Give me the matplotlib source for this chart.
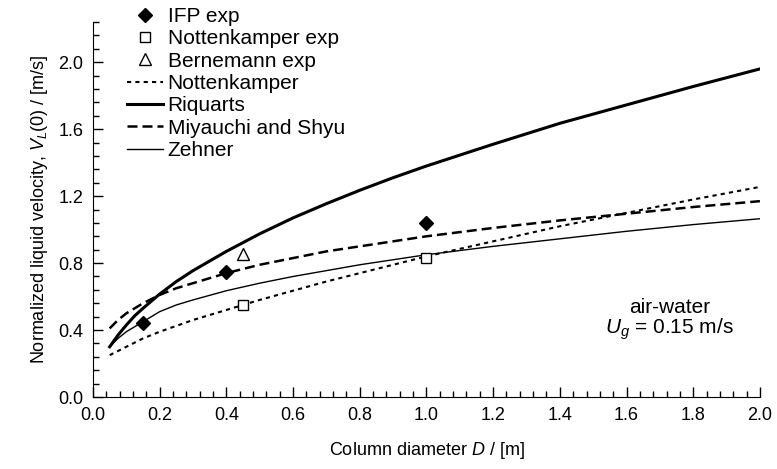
import numpy as np
import matplotlib
matplotlib.use('Agg')
from matplotlib import pyplot as plt

plt.rcParams['font.family'] = ['Liberation Sans', 'DejaVu Sans']
plt.rcParams['mathtext.fontset'] = 'custom'
plt.rcParams['mathtext.it'] = 'Liberation Sans:italic'
plt.rcParams['mathtext.rm'] = 'Liberation Sans'

# -----------------------------------------------
# экспериментальные точки
ifp_D = [0.15, 0.40, 1.00]
ifp_V = [0.445, 0.745, 1.04]
nott_exp_D = [0.45, 1.00]
nott_exp_V = [0.55, 0.83]
bern_D = [0.45]
bern_V = [0.855]

# корреляции
D = [0.05, 0.075, 0.1, 0.125, 0.15, 0.2, 0.25, 0.3, 0.4, 0.5, 0.6, 0.7, 0.8, 0.9,
     1.0, 1.2, 1.4, 1.6, 1.8, 2.0]
nott_V = [0.25, 0.275, 0.30, 0.325, 0.35, 0.39, 0.425, 0.46, 0.52, 0.58, 0.635, 0.69,
          0.74, 0.79, 0.84, 0.93, 1.02, 1.10, 1.18, 1.255]
riq_V = [0.30, 0.37, 0.43, 0.485, 0.53, 0.615, 0.69, 0.755, 0.87, 0.975, 1.07, 1.155,
         1.235, 1.31, 1.38, 1.51, 1.635, 1.745, 1.855, 1.96]
miy_V = [0.41, 0.46, 0.50, 0.53, 0.56, 0.61, 0.65, 0.68, 0.74, 0.79, 0.83, 0.87,
         0.90, 0.93, 0.96, 1.01, 1.055, 1.095, 1.135, 1.17]
zeh_V = [0.30, 0.35, 0.39, 0.42, 0.45, 0.51, 0.55, 0.58, 0.635, 0.68, 0.72, 0.755,
         0.79, 0.82, 0.85, 0.90, 0.945, 0.99, 1.03, 1.065]

x_major = [0.0, 0.2, 0.4, 0.6, 0.8, 1.0, 1.2, 1.4, 1.6, 1.8, 2.0]
y_major = [0.0, 0.4, 0.8, 1.2, 1.6, 2.0]
# -----------------------------------------------

fig = plt.figure(figsize=(7.77, 4.69), dpi=100)
ax = fig.add_axes([0.1197, 0.1535, 0.978 - 0.1197, 0.953 - 0.1535])

ax.plot(ifp_D, ifp_V, 'D', color='black', markersize=7.5, label='IFP exp', zorder=5)
ax.plot(nott_exp_D, nott_exp_V, 's', mfc='white', mec='black', mew=1.0,
        markersize=7.5, label='Nottenkamper exp', zorder=5)
ax.plot(bern_D, bern_V, '^', mfc='white', mec='black', mew=1.0,
        markersize=8, label='Bernemann exp', zorder=5)
ax.plot(D, nott_V, color='black', lw=1.5, linestyle=(0, (2, 2)), label='Nottenkamper')
ax.plot(D, riq_V, color='black', lw=2.2, label='Riquarts')
ax.plot(D, miy_V, color='black', lw=1.8, linestyle=(0, (4, 2)), label='Miyauchi and Shyu')
ax.plot(D, zeh_V, color='black', lw=1.0, label='Zehner')

ax.set_xlim(0, 2.0)
ax.set_ylim(0, 2.24)
ax.set_xticks(x_major)
ax.set_xticks(np.arange(0, 2.01, 0.04), minor=True)
ax.set_yticks(y_major)
ax.set_yticks(np.arange(0, 2.25, 0.08), minor=True)
ax.set_xticklabels([f'{v:.1f}' for v in x_major])
ax.set_yticklabels([f'{v:.1f}' for v in y_major])
ax.tick_params(which='both', direction='in', labelsize=13, width=1)
ax.tick_params(which='major', length=7)
ax.tick_params(which='minor', length=4)
ax.tick_params(axis='y', pad=7)
ax.tick_params(axis='x', pad=7)
ax.spines['top'].set_visible(False)
ax.spines['right'].set_visible(False)

ax.set_xlabel('Column diameter $D$ / [m]', fontsize=13, labelpad=12)
ax.set_ylabel('Normalized liquid velocity, $V_L$(0) / [m/s]', fontsize=13, labelpad=6)

ax.text(1.73, 0.46, 'air-water\n$U_g$ = 0.15 m/s', ha='center', va='center', fontsize=15,
        linespacing=1.0)

ax.legend(loc='upper left', bbox_to_anchor=(0.051, 1.04), frameon=False, fontsize=15,
          handlelength=1.75, handletextpad=0.2, labelspacing=0.16, borderpad=0,
          borderaxespad=0)

fig.savefig('out.png', dpi=100)
